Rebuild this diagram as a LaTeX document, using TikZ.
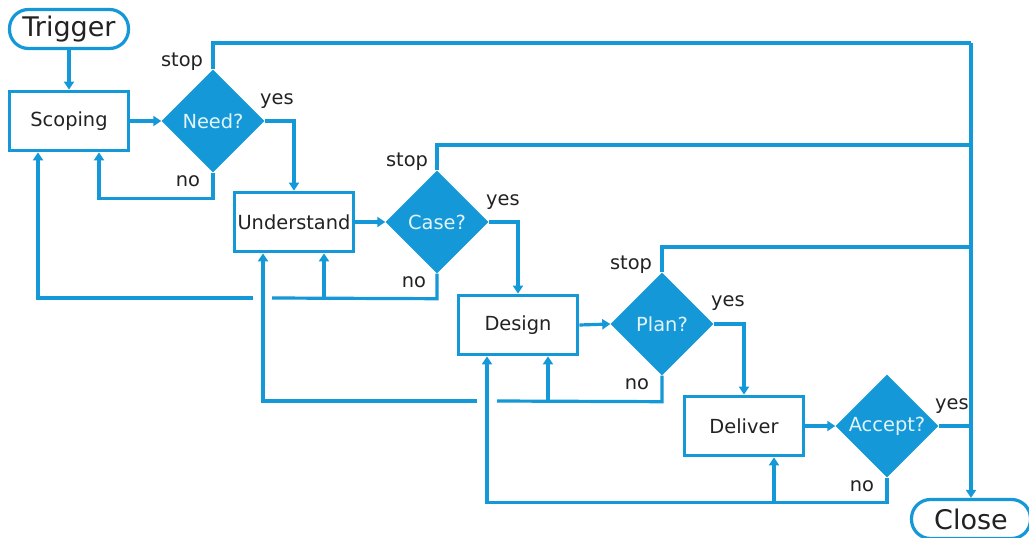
\documentclass[tikz,border=0pt]{standalone}
\usepackage{fontspec}
\setmainfont{DejaVu Sans}
\usetikzlibrary{shapes.geometric,arrows.meta}
\definecolor{fblue}{RGB}{20,152,215}
\definecolor{txt}{RGB}{34,34,34}
\begin{document}
\begin{tikzpicture}[x=1pt,y=-1pt,
  conn/.style={draw=fblue,line width=3.2pt},
  arr/.style={conn,-{Triangle[width=10pt,length=8pt]}},
  procbox/.style={draw=fblue,line width=3.2pt,fill=white,minimum width=119.5pt,minimum height=59.5pt,inner sep=0pt,font=\fontsize{19.4}{21}\selectfont,text=txt},
  decision/.style={diamond,fill=fblue,minimum width=103pt,minimum height=103pt,inner sep=0pt,aspect=1,font=\fontsize{19.4}{21}\selectfont,text=white!88!fblue},
  terminal/.style={draw=fblue,line width=3.2pt,fill=white,rounded corners=19pt,minimum width=119pt,minimum height=39pt,inner sep=0pt,font=\fontsize{27}{30}\selectfont,text=txt},
  lbl/.style={font=\fontsize{19.4}{21}\selectfont,text=txt,inner sep=0pt}]
\clip (0,0) rectangle (1029,538);
\fill[white] (0,0) rectangle (1029,538);

% nodes
\node[terminal] (trigger) at (69,29) {Trigger};
\node[procbox] (scoping) at (69,121) {Scoping};
\node[decision] (need) at (213,121) {Need?};
\node[procbox] (understand) at (294,222) {Understand};
\node[decision] (case) at (437,222) {Case?};
\node[procbox] (design) at (518,325) {Design};
\node[decision] (plan) at (662,324) {Plan?};
\node[procbox] (deliver) at (744,426) {Deliver};
\node[decision] (accept) at (887,426) {Accept?};
\node[terminal] (close) at (971,519) {Close};

% labels
\node[lbl] (stop1) at (182,62) {stop};
\node[lbl] (yes1) at (277,101) {yes};
\node[lbl] (no1) at (188,181) {no};
\node[lbl] (stop2) at (407,162) {stop};
\node[lbl] (yes2) at (503,202) {yes};
\node[lbl] (no2) at (414,282) {no};
\node[lbl] (stop3) at (631,265) {stop};
\node[lbl] (yes3) at (728,303) {yes};
\node[lbl] (no3) at (637,384) {no};
\node[lbl] (yes4) at (952,406) {yes};
\node[lbl] (no4) at (862,486) {no};

% main flow
\draw[arr] (trigger.south) -- (scoping.north);
\draw[arr] (scoping.east) -- (need.west);
\draw[arr] (understand.east) -- (case.west);
\draw[arr] (design.east) -- (plan.west);
\draw[arr] (deliver.east) -- (accept.west);

% yes branches
\draw[arr] (need.east) -| (understand.north);
\draw[arr] (case.east) -| (design.north);
\draw[arr] (plan.east) -| (deliver.north);

% stop rail
\coordinate (railtop) at (971,43);
\draw[conn] (need.north) |- (railtop);
\draw[arr] (railtop) -- (close.north);
\draw[conn] (case.north) |- (971,145);
\draw[conn] (plan.north) |- (971,247);
\draw[conn] (accept.east) -- (971,426);

% no branches
\draw[arr] (need.south) -- ++(0,26) -| ([xshift=30pt]scoping.south);

\draw[conn] (case.south) -- ++(0,25) -- (272,298);
\draw[arr] (253,298) -| ([xshift=-31pt]scoping.south);
\draw[arr] (324,298) -- ([xshift=30pt]understand.south);

\draw[conn] (plan.south) -- ++(0,26) -- (497,401);
\draw[arr] (477,401) -| ([xshift=-31pt]understand.south);
\draw[arr] (548,401) -- ([xshift=30pt]design.south);

\draw[arr] (accept.south) -- ++(0,25) -| ([xshift=-31pt]design.south);
\draw[arr] (774,502) -- ([xshift=30pt]deliver.south);
\end{tikzpicture}
\end{document}
